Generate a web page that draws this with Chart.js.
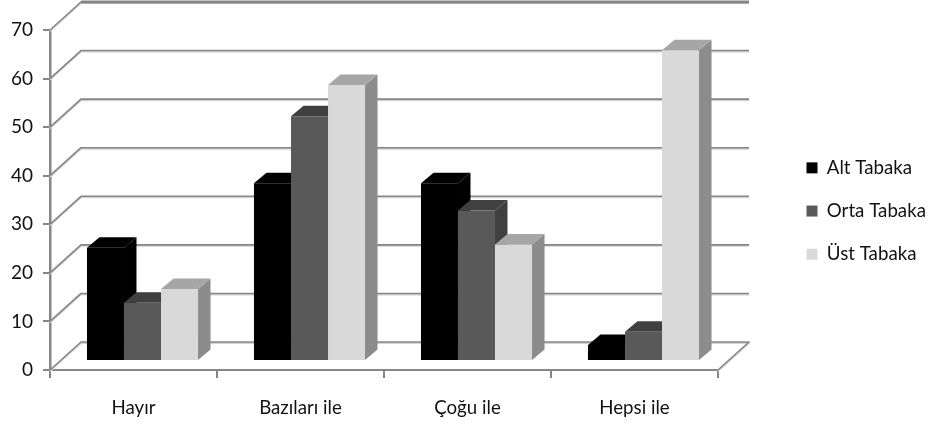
<!DOCTYPE html>
<html>
<head>
<meta charset="utf-8">
<style>
  html, body { margin: 0; padding: 0; background: #fff; }
  #wrap { width: 930px; height: 427px; }
</style>
<script src="https://cdn.jsdelivr.net/npm/chart.js@4"></script>
</head>
<body>
<div id="wrap"><canvas id="grafik"></canvas></div>
<script>
const categories = ['Hayır', 'Bazıları ile', 'Çoğu ile', 'Hepsi ile'];
const altTabaka = [23.3, 36.6, 36.6, 3.3];
const ortaTabaka = [12, 50.4, 31, 6];
const ustTabaka = [14.8, 56.8, 24, 64];

// colours per series: front, top, side
const faces = [
    ['#000000', '#000000', '#000000'],
    ['#595959', '#404040', '#404040'],
    ['#d9d9d9', '#a6a6a6', '#8c8c8c']
];

const wallColor = '#868686';
const wallShade = '#d4d4d4';
const wallDepth = {x: 31, y: -28};
const barShift = {x: 9, y: -9};
const barDepth = {x: 12.5, y: -10.5};

function wallLine(ctx, points, width){
    ctx.beginPath();
    points.forEach(function(p, i){
        if(i === 0) ctx.moveTo(p[0], p[1]);
        else ctx.lineTo(p[0], p[1]);
    });
    ctx.lineWidth = width;
    ctx.stroke();
}

function fillFace(ctx, color, points){
    ctx.fillStyle = color;
    ctx.beginPath();
    points.forEach(function(p, i){
        if(i === 0) ctx.moveTo(p[0], p[1]);
        else ctx.lineTo(p[0], p[1]);
    });
    ctx.closePath();
    ctx.fill();
}

const box3d = {
    id: 'box3d',
    beforeLayout(chart){
        // the legend claims the whole right column, so the plot stops at 718
        const legend = chart.legend;
        if(!legend._wrapped){
            const fit = legend.fit;
            legend.fit = function(){
                fit.call(this);
                this.width = 212;
            };
            legend._wrapped = true;
        }
    },
    afterLayout(chart){
        const legend = chart.legend;
        legend.left = 782;
        legend.right = 930;
        legend.top = 134;
    },
    beforeDatasetsDraw(chart){
        const ctx = chart.ctx;
        const area = chart.chartArea;
        const yScale = chart.scales.y;
        ctx.save();
        ctx.lineJoin = 'round';
        yScale.ticks.forEach(function(tick){
            const y = yScale.getPixelForValue(tick.value);
            const pts = [[area.left, y], [area.left + wallDepth.x, y + wallDepth.y], [area.right + wallDepth.x, y + wallDepth.y]];
            const isTop = tick.value === yScale.max;
            if(tick.value === 0) pts.push([area.right, y]);
            ctx.strokeStyle = wallShade;
            wallLine(ctx, pts.map(function(p){ return [p[0], p[1] + 1]; }), 2);
            ctx.strokeStyle = wallColor;
            wallLine(ctx, pts, 1.6);
            if(isTop) wallLine(ctx, pts.slice(1), 3);
        });
        ctx.restore();
    },
    // chart.js paints the last dataset first, here the next bar has to cover
    // the side of the previous one, so the normal pass is skipped
    beforeDatasetDraw(){
        return false;
    },
    afterDatasetsDraw(chart){
        const ctx = chart.ctx;
        ctx.save();
        ctx.translate(barShift.x, barShift.y);
        chart.data.datasets.forEach(function(ds, i){
            const meta = chart.getDatasetMeta(i);
            const c = faces[i];
            meta.data.forEach(function(bar){
                const p = bar.getProps(['x', 'y', 'base', 'width'], true);
                const l = p.x - p.width / 2;
                const r = p.x + p.width / 2;
                const dx = barDepth.x;
                const dy = barDepth.y;
                fillFace(ctx, c[2], [[r, p.y], [r + dx, p.y + dy], [r + dx, p.base + dy], [r, p.base]]);
                fillFace(ctx, c[1], [[l, p.y], [l + dx, p.y + dy], [r + dx, p.y + dy], [r, p.y]]);
            });
            meta.controller.draw();
        });
        ctx.restore();
    }
};

new Chart(document.getElementById('grafik'), {
    type: 'bar',
    data: {
        labels: categories,
        datasets: [
            {label: 'Alt Tabaka', data: altTabaka, backgroundColor: faces[0][0]},
            {label: 'Orta Tabaka', data: ortaTabaka, backgroundColor: faces[1][0]},
            {label: 'Üst Tabaka', data: ustTabaka, backgroundColor: faces[2][0]}
        ]
    },
    options: {
        responsive: true,
        maintainAspectRatio: false,
        animation: false,
        clip: false,
        barPercentage: 1,
        categoryPercentage: 0.665,
        layout: {padding: {top: 30, left: 0, right: 0, bottom: 0}},
        plugins: {
            title: {display: false},
            tooltip: {enabled: false},
            legend: {
                position: 'right',
                align: 'start',
                labels: {
                    boxWidth: 11,
                    boxHeight: 11,
                    padding: 24.5,
                    color: '#111111',
                    font: {family: 'Lato', size: 18.7}
                }
            }
        },
        scales: {
            x: {
                afterFit(scale){ scale.height = 57; },
                border: {color: wallColor, width: 2},
                grid: {drawOnChartArea: false, color: wallColor, lineWidth: 2, tickLength: 8},
                ticks: {color: '#111111', padding: 19, maxRotation: 0, font: {family: 'Lato', size: 18.7}}
            },
            y: {
                min: 0,
                max: 70,
                afterFit(scale){ scale.width = 50; },
                border: {color: wallColor, width: 2.5},
                grid: {drawOnChartArea: false, color: wallColor, lineWidth: 2, tickLength: 7},
                ticks: {stepSize: 10, color: '#111111', padding: 10, font: {family: 'Lato', size: 19}}
            }
        }
    },
    plugins: [box3d]
});
</script>
</body>
</html>
